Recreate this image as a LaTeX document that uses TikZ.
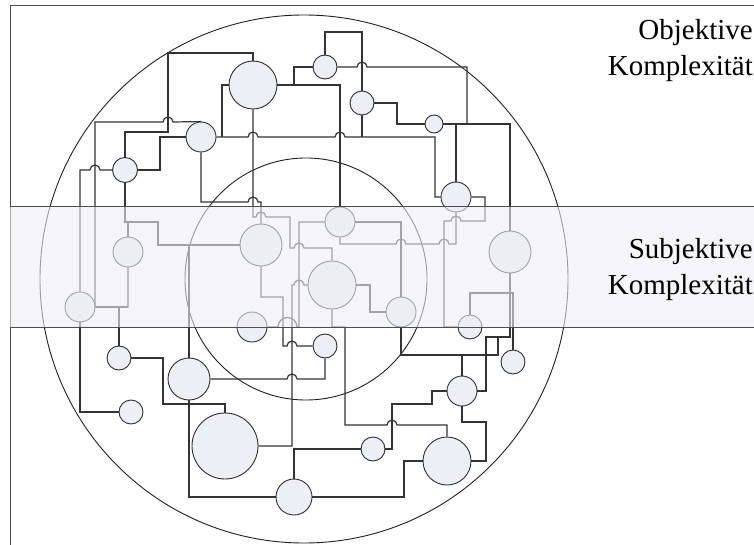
\documentclass[tikz,border=0pt]{standalone}
\usepackage{fontspec}
\setmainfont{Liberation Serif}
\pgfdeclarelayer{rings}
\pgfdeclarelayer{wires}
\pgfdeclarelayer{front}
\pgfsetlayers{rings,wires,main,front}
\begin{document}
\definecolor{blobfill}{RGB}{236,239,245}
\definecolor{bandfill}{RGB}{238,236,244}
\begin{tikzpicture}[x=1pt,y=-1pt,
  blob/.style={circle, draw=black!82, fill=blobfill, line width=0.9pt, inner sep=0pt},
  wire/.style={draw=black!80, line width=1.2pt},
  ring/.style={draw=black!88, line width=0.9pt},
  frame/.style={draw=black!70, line width=1pt},
  label/.style={anchor=north east, align=right, inner sep=0pt, font=\fontsize{29}{36}\selectfont}]
\useasboundingbox (0,0) rectangle (754,545);
\clip (0,0) rectangle (754,545);

% outer and inner complexity circles
\begin{pgfonlayer}{rings}
\draw[ring] (304,279) circle[radius=264];
\draw[ring] (306,279) circle[radius=121];
\end{pgfonlayer}

% elements
\node[blob, minimum size=48pt] (n1) at (253,85) {};
\node[blob, minimum size=30pt] (n2) at (201,137) {};
\node[blob, minimum size=25pt] (n3) at (125,170) {};
\node[blob, minimum size=24pt] (n4) at (325,67) {};
\node[blob, minimum size=24pt] (n5) at (362,103) {};
\node[blob, minimum size=18pt] (n6) at (434,124) {};
\node[blob, minimum size=30pt] (n7) at (456,197) {};
\node[blob, minimum size=30pt] (n8) at (128,252) {};
\node[blob, minimum size=30pt] (n9) at (80,307) {};
\node[blob, minimum size=42pt] (n10) at (261,245) {};
\node[blob, minimum size=30pt] (n11) at (340,222) {};
\node[blob, minimum size=48pt] (n12) at (332,285) {};
\node[blob, minimum size=30pt] (n13) at (401,312) {};
\node[blob, minimum size=30pt] (n14) at (252,327) {};
\node[blob, minimum size=24pt] (n15) at (325,346) {};
\node[blob, minimum size=42pt] (n16) at (510,252) {};
\node[blob, minimum size=24pt] (n17) at (470,327) {};
\node[blob, minimum size=24pt] (n18) at (513,362) {};
\node[blob, minimum size=24pt] (n19) at (119,358) {};
\node[blob, minimum size=42pt] (n20) at (189,379) {};
\node[blob, minimum size=24pt] (n21) at (131,412) {};
\node[blob, minimum size=66pt] (n22) at (225,446) {};
\node[blob, minimum size=36pt] (n23) at (294,497) {};
\node[blob, minimum size=24pt] (n24) at (373,449) {};
\node[blob, minimum size=48pt] (n25) at (447,461) {};
\node[blob, minimum size=30pt] (n26) at (462,391) {};

% connectors, kept behind the elements
\begin{pgfonlayer}{wires}
\path[wire] (n1.north) |- (168,53) -- (168,132) -| (n3.north);
\path[wire] (n2.north) -- (173,122) arc[start angle=0,end angle=-180,radius=5] -- (95,122) -- (95,307) -| (n8.south);
\path[wire] (n9.west) -- (n8.south |- n9.west);
\path[wire] (n19.north) -- (119,307);
\path[wire] (n3.west) -- (100,170) arc[start angle=0,end angle=-180,radius=5] -- (80,170) -- (n9.north);
\path[wire] (n9.south) |- (n21.west);
\path[wire] (n3.east) -| (160,137) -- (n2.west);
\path[wire] (n3.south) |- (158,222) |- (n10.west);
\path[wire] (n8.north) -- (128,222);
\path[wire] (n20.north) -- (189,245);
\path[wire] (n2.south) |- (248,202) arc[start angle=180,end angle=360,radius=5] -| (n10.north);
\path[wire] (n1.south) -- (253,217) -- (256,217) arc[start angle=180,end angle=360,radius=5] -- (290,217) -- (290,248) -- (294,248) arc[start angle=180,end angle=360,radius=5] -| (n12.north);
\path[wire] (n1.west) -| (222,137);
\path[wire] (n2.east) -- (248,137) arc[start angle=180,end angle=360,radius=5] -- (335,137) arc[start angle=180,end angle=360,radius=5] -| (435,197) -- (n7.west);
\path[wire] (n5.south) -- (362,137);
\path[wire] (n1.east) -| (n11.north);
\path[wire] (n4.west) -| (294,85);
\path[wire] (n4.north) |- (362,32) -- (n5.north);
\path[wire] (n4.east) -- (357,67) arc[start angle=180,end angle=360,radius=5] -- (467,67) |- (n6.east);
\path[wire] (n6.east) -| (n16.north);
\path[wire] (n7.north) |- (n6.east);
\path[wire] (n5.east) -| (397,124) -- (n6.west);
\path[wire] (n7.east) -| (485,221) -- (461,221) arc[start angle=0,end angle=-180,radius=5] -- (444,221) |- (n17.west);
\path[wire] (n11.south) |- (396,244) arc[start angle=180,end angle=360,radius=5] -- (439,244) arc[start angle=180,end angle=360,radius=5] -| (n7.south);
\path[wire] (n11.east) -| (n13.north);
\path[wire] (n11.west) -| (299,327) -- (297,327) arc[start angle=0,end angle=-180,radius=9.5] -- (n14.east);
\path[wire] (n10.south) |- (283,297) |- (287,346) arc[start angle=180,end angle=360,radius=5] -- (n15.west);
\path[wire] (n22.east) -| (292,285) -- (294,285) arc[start angle=180,end angle=360,radius=5] -- (n12.west);
\path[wire] (n20.east) -- (287,379) arc[start angle=180,end angle=360,radius=5] -| (n15.south);
\path[wire] (n12.east) -| (370,312) -- (n13.west);
\path[wire] (n12.south) |- (345,327) |- (387,425) arc[start angle=180,end angle=360,radius=5] -| (n25.north);
\path[wire] (n13.south) |- (498,355) -- (498,337);
\path[wire] (n26.north) -- (462,355);
\path[wire] (n16.south) |- (486,337) |- (n26.east);
\path[wire] (n17.north) |- (513,293) -- (n18.north);
\path[wire] (n26.south) |- (486,422) |- (n25.east);
\path[wire] (n26.west) -| (432,404) -| (392,449) -- (n24.east);
\path[wire] (n24.west) -| (n23.north);
\path[wire] (n23.east) -| (404,461) -- (n25.west);
\path[wire] (n20.south) |- (n23.west);
\path[wire] (n19.east) -| (163,404) -| (n22.north);
\end{pgfonlayer}

\begin{pgfonlayer}{front}
% frame
\draw[frame] (10,550) -- (10,6) -- (760,6);

% translucent band of subjective complexity
\fill[bandfill, fill opacity=0.6] (10,207) rectangle (760,327);
\draw[frame] (10,207) -- (760,207);
\draw[frame] (10,327) -- (760,327);

% labels
\node[label] (obj) at (753,19) {Objektive\\Komplexität};
\node[label] (subj) at (753,238) {Subjektive\\Komplexität};
\end{pgfonlayer}
\end{tikzpicture}
\end{document}
